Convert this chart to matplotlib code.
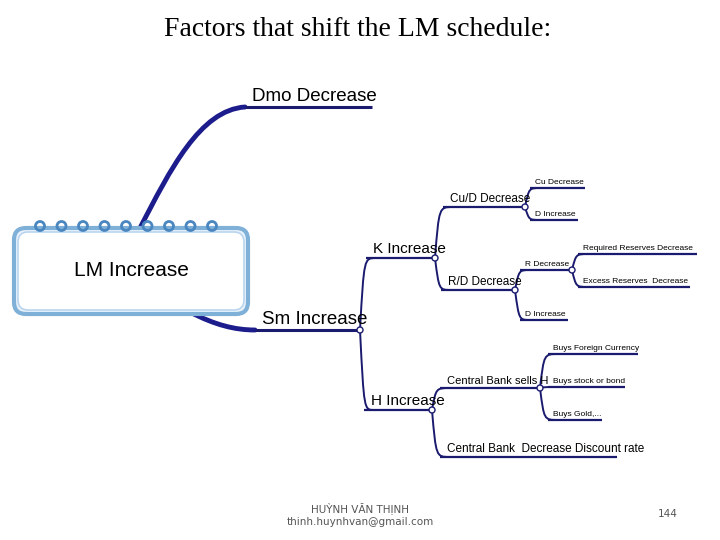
import matplotlib
matplotlib.use("Agg")
import matplotlib.pyplot as plt
from matplotlib.path import Path
from matplotlib.patches import PathPatch, FancyBboxPatch, Circle, Ellipse

plt.rcParams['font.family'] = ['Liberation Sans', 'DejaVu Sans']

title = "Factors that shift the LM schedule:"
root_label = "LM Increase"
footer_name = "HUỲNH VĂN THỊNH"
footer_mail = "thinh.huynhvan@gmail.com"
page_no = "144"

# node: label, parent, underline x0, x1, y (pixels), font size
nodes = [
    ("Dmo Decrease", None, 245, 372, 107, 13.5),
    ("Sm Increase", None, 255, 360, 330, 13.5),
    ("K Increase", "Sm Increase", 366, 435, 258, 11),
    ("H Increase", "Sm Increase", 364, 432, 410, 11),
    ("Cu/D Decrease", "K Increase", 443, 525, 207, 8.5),
    ("R/D Decrease", "K Increase", 441, 515, 290, 8.5),
    ("Cu Decrease", "Cu/D Decrease", 530, 585, 188, 6),
    ("D Increase", "Cu/D Decrease", 530, 578, 220, 6),
    ("R Decrease", "R/D Decrease", 520, 572, 270, 6),
    ("D Increase ", "R/D Decrease", 520, 568, 320, 6),
    ("Required Reserves Decrease", "R Decrease", 578, 697, 254, 6),
    ("Excess Reserves  Decrease", "R Decrease", 578, 690, 287, 6),
    ("Central Bank sells H", "H Increase", 440, 540, 388, 8),
    ("Central Bank  Decrease Discount rate", "H Increase", 440, 617, 457, 8.5),
    ("Buys Foreign Currency", "Central Bank sells H", 548, 638, 354, 6),
    ("Buys stock or bond", "Central Bank sells H", 548, 625, 387, 6),
    ("Buys Gold,...", "Central Bank sells H", 548, 602, 420, 6),
]

navy = "#1a1a6e"
fig = plt.figure(figsize=(7.2, 5.4), dpi=100)
ax = fig.add_axes([0, 0, 1, 1])
ax.set_xlim(0, 720)
ax.set_ylim(540, 0)
ax.axis("off")

ax.text(358, 30, title, ha="center", va="center", fontsize=20,
        family="Liberation Serif")

# thick tapered links from the root box
for (sx, sy), (ex, ey), c1, c2 in [((140, 228), (245, 107), (170, 170), (200, 110)),
                                   ((190, 312), (255, 330), (215, 325), (235, 330))]:
    p = Path([(sx, sy), c1, c2, (ex, ey)], [Path.MOVETO, Path.CURVE4, Path.CURVE4, Path.CURVE4])
    ax.add_patch(PathPatch(p, fc="none", ec="#1c1c8c", lw=3.5, capstyle="round"))

# root box
ax.add_patch(FancyBboxPatch((14, 228), 234, 86, boxstyle="round,pad=0,rounding_size=12",
                            fc="#eaf3fb", ec="#7fb0d8", lw=3, zorder=3))
ax.add_patch(FancyBboxPatch((18, 232), 226, 78, boxstyle="round,pad=0,rounding_size=10",
                            fc="white", ec="#b9d5ee", lw=1.2, zorder=3))
for i in range(9):
    ax.add_patch(Ellipse((40 + i * 21.5, 226), 9, 9, fc="none", ec="#4a86c0", lw=2, zorder=4))
ax.text(131, 270, root_label, ha="center", va="center", fontsize=15, zorder=5)

pos = {n[0]: n for n in nodes}
for label, parent, x0, x1, y, fs in nodes:
    lw = 2.2 if parent is None else 1.6
    ax.plot([x0, x1], [y, y], color=navy, lw=lw, solid_capstyle="butt")
    ax.text(x0 + (7 if fs >= 8 else 5), y - 2, label.strip(), ha="left", va="bottom", fontsize=fs)
    if parent is not None:
        p = pos[parent]
        px, py = p[3], p[4]
        path = Path([(px, py), (px + 4, y), (px + 4, y), (x0 + 10, y)],
                    [Path.MOVETO, Path.CURVE4, Path.CURVE4, Path.CURVE4])
        ax.add_patch(PathPatch(path, fc="none", ec=navy, lw=1.4))
for label in {n[1] for n in nodes if n[1]}:
    p = pos[label]
    ax.add_patch(Circle((p[3], p[4]), 3, fc="white", ec=navy, lw=1, zorder=5))

ax.text(360, 508, footer_name, ha="center", va="center", fontsize=7.5, color="#555555",
        family="DejaVu Sans")
ax.text(360, 522, footer_mail, ha="center", va="center", fontsize=7.5, color="#555555",
        family="DejaVu Sans")
ax.text(668, 514, page_no, ha="center", va="center", fontsize=7.5, color="#555555",
        family="DejaVu Sans")

fig.savefig("out.png", dpi=100)
